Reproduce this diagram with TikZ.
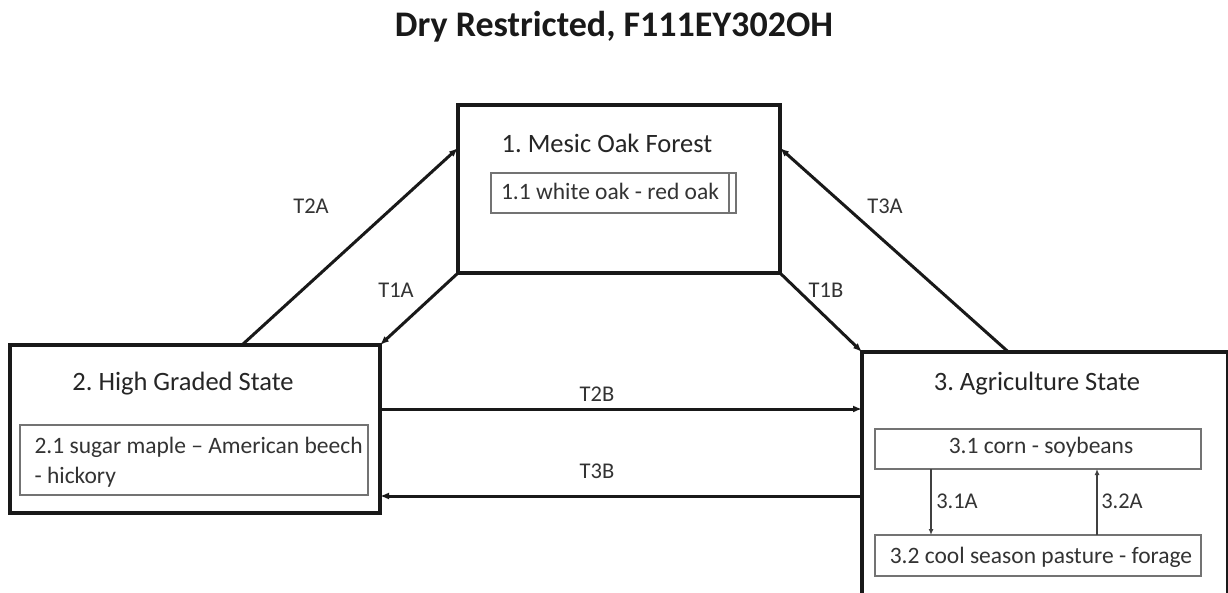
\documentclass[tikz,border=0pt]{standalone}
\usepackage{fontspec}
\setmainfont{Carlito}
\usetikzlibrary{arrows.meta,calc}
\frenchspacing
\begin{document}
\begin{tikzpicture}[x=1pt,y=-1pt,
 state/.style={draw=black!90,line width=3.2pt,inner sep=0pt,outer sep=0pt,anchor=north west},
 sub/.style={draw=black!55,line width=1.5pt,inner sep=0pt,outer sep=0pt,anchor=north west},
 ttl/.style={anchor=base,text=black!85,font=\fontsize{26.5}{30}\selectfont},
 subtxt/.style={anchor=base,text=black!80,font=\fontsize{23.5}{27}\selectfont},
 lbl/.style={anchor=base,text=black!80,font=\fontsize{22.5}{26}\selectfont},
 tr/.style={line width=3pt,draw=black!90,-{Latex[length=9pt,width=7pt]}},
 itr/.style={line width=1.4pt,draw=black!75,-{Latex[length=6pt,width=5pt]}}]
\fill[white] (0,0) rectangle (1228,593);
\useasboundingbox (0,0) rectangle (1228,593);

% title
\node[anchor=base,font=\bfseries\fontsize{36}{40}\selectfont,text=black!90] (title) at (614,37) {Dry Restricted, F111EY302OH};

% state boxes
\node[state,minimum width=322pt,minimum height=168pt] (b1) at (458,105) {};
\node[state,minimum width=370pt,minimum height=168pt] (b2) at (10,345) {};
\node[state,minimum width=366pt,minimum height=260pt] (b3) at (862,352) {};

% community boxes
\node[sub,minimum width=245pt,minimum height=40pt] (i11) at (491,173) {};
\draw[black!55,line width=1.5pt] ($(i11.north east)+(-7,0)$) -- ($(i11.south east)+(-7,0)$);
\node[sub,minimum width=348pt,minimum height=70pt] (i21) at (20,425) {};
\node[sub,minimum width=326pt,minimum height=40pt] (i31) at (875,429) {};
\node[sub,minimum width=326pt,minimum height=41pt] (i32) at (875,535) {};

% texts
\node[ttl] (t1) at (607,153) {1. Mesic Oak Forest};
\node[subtxt] (s11) at (610,200) {1.1 white oak - red oak};
\node[ttl] (t2) at (183,390) {2. High Graded State};
\node[subtxt,anchor=base west] (s21a) at (31,453) {2.1 sugar maple – American beech};
\node[subtxt,anchor=base west] (s21b) at (31,483) {- hickory};
\node[ttl] (t3) at (1037,390) {3. Agriculture State};
\node[subtxt] (s31) at (1041,453) {3.1 corn - soybeans};
\node[subtxt] (s32) at (1041,563) {3.2 cool season pasture - forage};

% transitions
\coordinate (t2a0) at ($(b2.north west)!0.627!(b2.north east)$);
\coordinate (t2a1) at ($(b1.north west)!0.256!(b1.south west)$);
\draw[tr] (t2a0) -- (t2a1);
\draw[tr] (b1.south west) -- (b2.north east);
\draw[tr] (b1.south east) -- (b3.north west);
\coordinate (t3a0) at ($(b3.north west)!0.4!(b3.north east)$);
\coordinate (t3a1) at ($(b1.north east)!0.256!(b1.south east)$);
\draw[tr] (t3a0) -- (t3a1);
\coordinate (t2b) at ($(b2.north east)!0.381!(b2.south east)$);
\draw[tr] (t2b) -- (t2b -| b3.west);
\coordinate (t3b) at (0,496);
\draw[tr] (t3b -| b3.west) -- (t3b -| b2.east);

% community pathways
\coordinate (p31) at (931,0);
\coordinate (p32) at (1097,0);
\draw[itr] (p31 |- i31.south) -- (p31 |- i32.north);
\draw[itr] (p32 |- i32.north) -- (p32 |- i31.south);

% labels
\node[lbl] (l2a) at (311,214) {T2A};
\node[lbl] (l1a) at (396,298) {T1A};
\node[lbl] (l3a) at (885,214) {T3A};
\node[lbl] (l1b) at (826,298) {T1B};
\node[lbl] (l2b) at (597,401) {T2B};
\node[lbl] (l3b) at (597,478) {T3B};
\node[lbl] (l31a) at (957,508) {3.1A};
\node[lbl] (l32a) at (1122,508) {3.2A};
\end{tikzpicture}
\end{document}
